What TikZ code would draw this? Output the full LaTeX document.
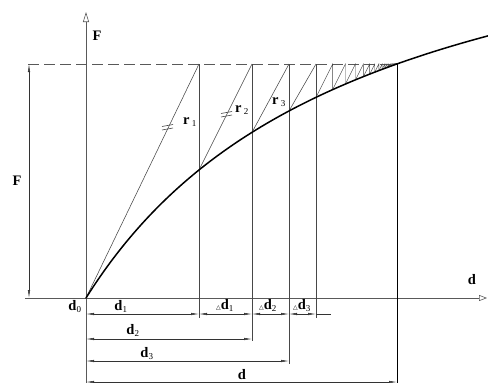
\documentclass[tikz,border=0pt]{standalone}
\usepackage{fontspec}
\setmainfont{Liberation Serif}
\newfontfamily\symfont{DejaVu Sans}
\usetikzlibrary{arrows.meta}
\newcommand\dlab[2]{\textbf{d}\textsubscript{\fontsize{9}{9}\selectfont\mdseries #2}}
\newcommand\ddlab[1]{{\symfont\fontsize{6}{6}\selectfont △}\textbf{d}\textsubscript{\fontsize{9}{9}\selectfont\mdseries #1}}
\newcommand\rlab[1]{\textbf{r}\,\textsubscript{\fontsize{9}{9}\selectfont\mdseries #1}}
\begin{document}
\begin{tikzpicture}[x=1pt,y=-1pt,
  declare function={fc(\u)=1.592*\u/(1+0.003588*\u);},
  thinln/.style={line width=0.55pt,draw=black!72},
  axisln/.style={line width=0.6pt,draw=black!65},
  dimln/.style={line width=0.5pt,draw=black!80,{Latex[length=8pt,width=2.4pt]}-{Latex[length=8pt,width=2.4pt]}},
  lbl/.style={font=\fontsize{14.5}{14.5}\selectfont\bfseries,inner sep=0pt},
  sublbl/.style={font=\fontsize{14.5}{14.5}\selectfont,inner sep=0pt}]
\useasboundingbox (0,0) rectangle (488,383);
\fill[white] (0,0) rectangle (488,383);
% key coordinates
\coordinate (O) at (86,298);
\coordinate (ytop) at (86,12);
\coordinate (ybot) at (86,383);
\coordinate (xleft) at (25,298);
\coordinate (xright) at (487,298);
\coordinate (Fl) at (28,64);
\coordinate (Fr) at (397,64);
% axes
\draw[axisln] (ybot) -- (O);
\draw[axisln,-{Triangle[open,length=10pt,width=6pt]}] (O) -- (ytop);
\draw[axisln,-{Triangle[open,length=8pt,width=6pt]}] (xleft) -- (xright);
% F level dashed
\draw[axisln,dash pattern=on 11pt off 5pt] (Fl) -- (Fr);
% left F dimension
\coordinate (Fa) at (29,64);
\coordinate (Fb) at (29,298);
\draw[dimln] (Fa) -- (Fb);
% long verticals
\coordinate (v1t) at (199,64); \coordinate (v1b) at (199,318);
\coordinate (v2t) at (252,64); \coordinate (v2b) at (252,341);
\coordinate (v3t) at (289,64); \coordinate (v3b) at (289,364);
\coordinate (v4t) at (316,64); \coordinate (v4b) at (316,318);
\coordinate (v5t) at (397,64); \coordinate (v5b) at (397,383);
\draw[thinln] (v1t) -- (v1b);
\draw[thinln] (v2t) -- (v2b);
\draw[thinln] (v3t) -- (v3b);
\draw[thinln] (v4t) -- (v4b);
\draw[line width=0.6pt] (v5t) -- (v5b);
% secant lines r
\coordinate (c1) at (199,{298-fc(113)});
\coordinate (c2) at (252,{298-fc(166)});
\coordinate (c3) at (289,{298-fc(203)});
\draw[thinln] (O) -- (v1t);
\draw[thinln] (c1) -- (v2t);
\draw[thinln] (c2) -- (v3t);
\draw[thinln] (c3) -- (v4t);
% staircase iteration
\xdef\ucur{230}
\foreach \i in {1,...,28}{
  \pgfmathsetmacro\fcur{fc(\ucur)}
  \pgfmathsetmacro\unext{\ucur+(234-\fcur)/2}
  \pgfmathsetmacro\fnext{fc(\unext)}
  \draw[thinln,line width=0.45pt] ({86+\ucur},{298-\fcur}) -- ({86+\unext},64) -- ({86+\unext},{298-\fnext});
  \xdef\ucur{\unext}
}
% curve
\draw[line width=1.5pt,line cap=round] plot[domain=0:402,samples=120,smooth] ({86+\x},{298-fc(\x)});
% parallel marks
\draw[thinln,line width=0.6pt] (162,126.5) -- (173,124.5) (162,130) -- (173,128);
\draw[thinln,line width=0.6pt] (221,113.5) -- (232,111.5) (221,117) -- (232,115);
% dimension lines
\coordinate (dA) at (86,314); \coordinate (dB) at (199,314); \coordinate (dC) at (252,314);
\coordinate (dD) at (289,314); \coordinate (dE) at (316,314); \coordinate (dF) at (331,314);
\draw[dimln] (dA) -- (dB);
\draw[dimln] (dB) -- (dC);
\draw[dimln] (dC) -- (dD);
\draw[dimln] (dD) -- (dE);
\draw[line width=0.5pt,draw=black!80] (dE) -- (dF);
\coordinate (e2a) at (86,339); \coordinate (e2b) at (252,339);
\coordinate (e3a) at (86,361); \coordinate (e3b) at (289,361);
\coordinate (e4a) at (86,382); \coordinate (e4b) at (397,382);
\draw[dimln] (e2a) -- (e2b);
\draw[dimln] (e3a) -- (e3b);
\draw[dimln] (e4a) -- (e4b);
% labels
\node[lbl] (Ftop) at (97,36) {F};
\node[lbl] (Fleft) at (17,181) {F};
\node[lbl] (dax) at (472,280) {d};
\node[sublbl,anchor=base] (d0) at (75,310) {\dlab{d}{0}};
\node[sublbl,anchor=base] (d1) at (121,310) {\dlab{d}{1}};
\node[sublbl,anchor=base] (d2) at (133,334) {\dlab{d}{2}};
\node[sublbl,anchor=base] (d3) at (147,357) {\dlab{d}{3}};
\node[sublbl,anchor=base] (dd) at (242,379) {\textbf{d}};
\node[sublbl,anchor=base] (dd1) at (225,309) {\ddlab{1}};
\node[sublbl,anchor=base] (dd2) at (268,309) {\ddlab{2}};
\node[sublbl,anchor=base] (dd3) at (302,309) {\ddlab{3}};
\node[sublbl,anchor=base] (r1) at (190,124) {\rlab{1}};
\node[sublbl,anchor=base] (r2) at (242,112) {\rlab{2}};
\node[sublbl,anchor=base] (r3) at (279,104) {\rlab{3}};
\end{tikzpicture}
\end{document}
